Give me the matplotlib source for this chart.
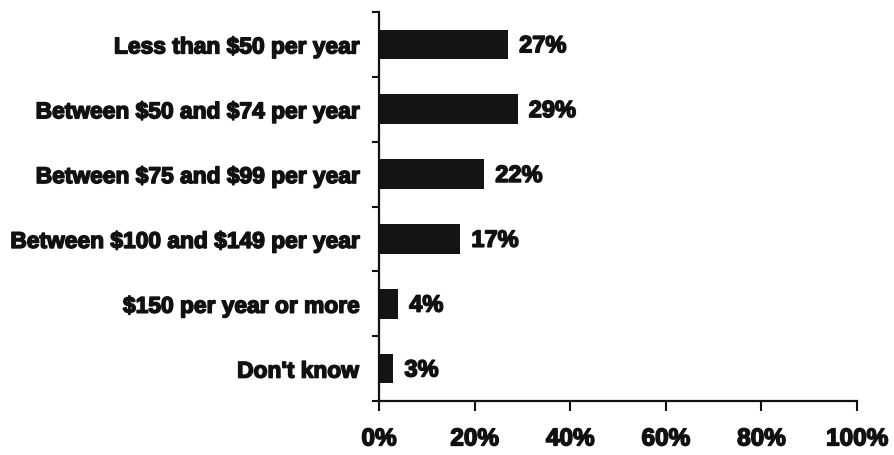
import matplotlib
matplotlib.use("Agg")
import matplotlib.pyplot as plt
import matplotlib.patheffects as pe
import numpy as np

plt.rcParams["text.parse_math"] = False

categories = [
    "Less than $50 per year",
    "Between $50 and $74 per year",
    "Between $75 and $99 per year",
    "Between $100 and $149 per year",
    "$150 per year or more",
    "Don't know",
]
values = [27, 29, 22, 17, 4, 3]
xtick_values = [0, 20, 40, 60, 80, 100]
xtick_labels = ["0%", "20%", "40%", "60%", "80%", "100%"]

FONT = "Liberation Sans"
INK = "#111111"
heavy = [pe.withStroke(linewidth=1.1, foreground=INK)]

fig = plt.figure(figsize=(8.95, 4.55), dpi=100)
ax = fig.add_axes([379 / 895, 1 - 401 / 455, (857 - 379) / 895, (401 - 12) / 455])

y = np.arange(len(categories))
ax.barh(y, values, height=0.46, color="#141414", edgecolor="none")

ax.set_xlim(0, 100)
ax.set_ylim(len(categories) - 0.5, -0.5)

for s in ("top", "right"):
    ax.spines[s].set_visible(False)
for s in ("left", "bottom"):
    ax.spines[s].set_linewidth(1.6)
    ax.spines[s].set_color(INK)

# category labels on major ticks (no marks), separators on minor ticks
ax.set_yticks(y)
ax.set_yticklabels(categories)
ax.set_yticks(np.arange(-0.5, len(categories)), minor=True)
ax.tick_params(axis="y", which="major", length=0, pad=14.5)
ax.tick_params(axis="y", which="minor", length=5, width=1.5, color=INK)

ax.set_xticks(xtick_values)
ax.set_xticklabels(xtick_labels)
ax.tick_params(axis="x", length=7, width=1.5, color=INK, pad=12)

for lbl in ax.get_yticklabels():
    lbl.set_fontfamily(FONT)
    lbl.set_fontweight("bold")
    lbl.set_fontsize(16.4)
    lbl.set_color(INK)
    lbl.set_path_effects(heavy)
for lbl in ax.get_xticklabels():
    lbl.set_fontfamily(FONT)
    lbl.set_fontweight("bold")
    lbl.set_fontsize(17.5)
    lbl.set_color(INK)
    lbl.set_path_effects(heavy)

for yi, v in zip(y, values):
    ax.annotate(f"{v}%", xy=(v, yi), xytext=(8, -1), textcoords="offset points",
                va="center", ha="left", fontsize=17, fontweight="bold",
                family=FONT, color=INK, path_effects=heavy)

fig.savefig("out.png", dpi=100)
